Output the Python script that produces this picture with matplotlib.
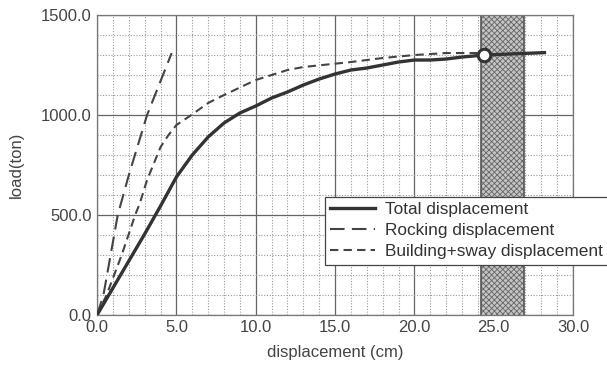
import numpy as np
import matplotlib
matplotlib.use('Agg')
import matplotlib.pyplot as plt
from matplotlib.ticker import MultipleLocator, FormatStrFormatter

plt.rcParams['font.family'] = ['Liberation Sans', 'DejaVu Sans']
plt.rcParams['hatch.linewidth'] = 0.6

# total displacement
total_x = [0, 1, 2, 3, 4, 5, 6, 7, 8, 9, 10, 11, 12, 13, 14, 15, 16, 17, 18, 19,
           20, 21, 22, 23, 24.4, 26, 28.2]
total_y = [0, 135, 270, 405, 545, 690, 800, 890, 960, 1010, 1045, 1085, 1115, 1150,
           1180, 1205, 1225, 1235, 1250, 1265, 1275, 1275, 1280, 1290, 1300, 1305, 1312]

# rocking displacement
rock_x = [0, 0.4, 1.3, 2.0, 3.15, 4.7]
rock_y = [0, 100, 500, 700, 1000, 1310]

# building + sway displacement
sway_x = [0, 0.6, 1.55, 2.4, 2.7, 3.15, 4.0, 4.5, 5.0, 5.85, 7, 8, 10, 12, 13, 16,
          18, 20, 22, 24]
sway_y = [0, 100, 300, 500, 560, 675, 840, 900, 950, 995, 1060, 1100, 1175, 1225,
          1240, 1265, 1285, 1300, 1310, 1310]

band = (24.2, 26.9)
yield_pt = (24.4, 1300)

fig = plt.figure(figsize=(6.07, 3.67), dpi=100)
ax = fig.add_axes([0.16, 0.142, 0.784, 0.817])

ax.axvspan(band[0], band[1], facecolor='#c4c4c4', hatch='xxxxxx', edgecolor='#666666',
           linewidth=0, zorder=1)
ax.axvline(band[0], color='#555555', lw=1.2, zorder=1)
ax.axvline(band[1], color='#555555', lw=1.2, zorder=1)

ax.plot(total_x, total_y, '-', color='#333333', lw=2.4, label='Total displacement', zorder=4)
ax.plot(rock_x, rock_y, color='#444444', lw=1.5, dashes=(7, 3.5), label='Rocking displacement', zorder=3)
ax.plot(sway_x, sway_y, color='#444444', lw=1.5, dashes=(4, 2.5), label='Building+sway displacement', zorder=3)
ax.plot(*yield_pt, 'o', ms=9, mfc='white', mec='#333333', mew=2.2, zorder=5)

ax.set_xlim(0, 30)
ax.set_ylim(0, 1500)
ax.xaxis.set_major_locator(MultipleLocator(5))
ax.xaxis.set_minor_locator(MultipleLocator(1))
ax.yaxis.set_major_locator(MultipleLocator(500))
ax.yaxis.set_minor_locator(MultipleLocator(100))
ax.xaxis.set_major_formatter(FormatStrFormatter('%.1f'))
ax.yaxis.set_major_formatter(FormatStrFormatter('%.1f'))
ax.grid(which='major', color='#666666', lw=0.9, ls='-', zorder=0)
ax.grid(which='minor', color='#999999', lw=0.8, ls=(0, (1, 1.5)), zorder=0)
ax.set_axisbelow(True)
ax.tick_params(which='both', length=0, labelsize=12, labelcolor='#444444', pad=4)
for s in ax.spines.values():
    s.set_color('#777777')
    s.set_linewidth(0.9)

ax.set_xlabel('displacement (cm)', fontsize=12, color='#444444', labelpad=7)
ax.set_ylabel('load(ton)', fontsize=12, color='#444444', labelpad=12)

leg = ax.legend(loc='upper left', bbox_to_anchor=(0.479, 0.393), fontsize=12.4,
                fancybox=False, framealpha=1, edgecolor='#444444', borderpad=0.3,
                labelspacing=0.35, handlelength=2.6, handletextpad=0.6, borderaxespad=0)
leg.get_frame().set_linewidth(0.9)
for t in leg.get_texts():
    t.set_color('#333333')

fig.savefig('out.png', dpi=100)
